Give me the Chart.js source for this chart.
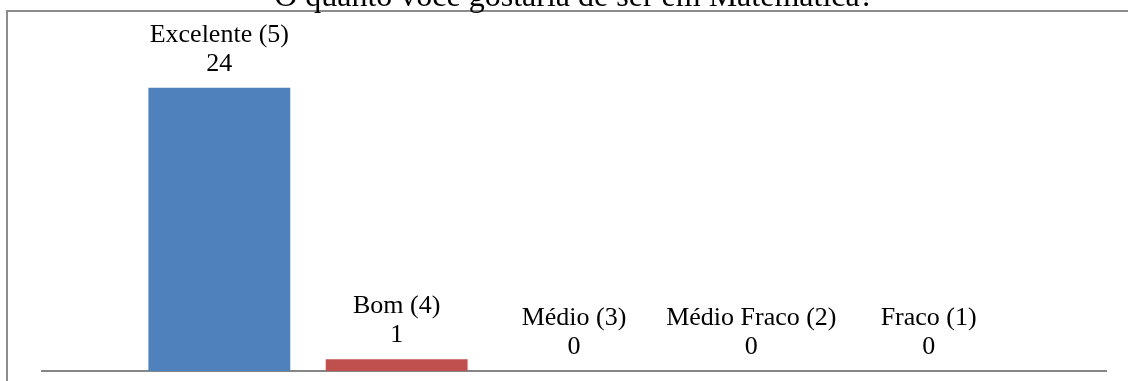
<!DOCTYPE html>
<html>
<head>
<meta charset="utf-8">
<script src="https://cdn.jsdelivr.net/npm/chart.js@4.4.0/dist/chart.umd.min.js"></script>
<style>
    html, body { margin: 0; padding: 0; background: #fff; overflow: hidden; }
    body { width: 1128px; height: 381px; position: relative; }
    .frame {
        position: absolute; left: 6px; top: 10px; width: 1160px; height: 420px;
        border-left: 2px solid #8c8c8c; border-top: 2px solid #8c8c8c;
    }
    .wrap { position: absolute; left: 0; top: -30px; width: 1128px; height: 411px; }
</style>
</head>
<body>
<div class="frame"></div>
<div class="wrap"><canvas id="chart"></canvas></div>
<script>
const chartTitle = 'O quanto você gostaria de ser em Matemática?';
const categories = ['Excelente (5)', 'Bom (4)', 'Médio (3)', 'Médio Fraco (2)', 'Fraco (1)'];
const counts = [24, 1, 0, 0, 0];
const barColors = ['#4f81bd', '#c0504d', '#9bbb59', '#8064a2', '#4bacc6'];

const serif = "'Liberation Serif', 'Times New Roman', serif";

// label above each bar: category on one line, value below it
const barLabels = {
    id: 'barLabels',
    afterDatasetsDraw(chart) {
        const ctx = chart.ctx;
        const meta = chart.getDatasetMeta(0);
        ctx.save();
        ctx.font = '26px ' + serif;
        ctx.fillStyle = '#000';
        ctx.textAlign = 'center';
        ctx.textBaseline = 'alphabetic';
        meta.data.forEach((bar, i) => {
            ctx.fillText(String(counts[i]), bar.x, bar.y - 17);
            ctx.fillText(categories[i], bar.x, bar.y - 46);
        });
        ctx.restore();
    }
};

new Chart(document.getElementById('chart'), {
    type: 'bar',
    data: {
        datasets: [{
            data: counts.map((v, i) => ({ x: i + 1, y: v })),
            backgroundColor: barColors,
            borderWidth: 0,
            barPercentage: 0.8,
            categoryPercentage: 1.0
        }]
    },
    options: {
        responsive: true,
        maintainAspectRatio: false,
        animation: false,
        layout: { padding: { left: 42, right: 22, top: 0, bottom: 2 } },
        plugins: {
            legend: { display: false },
            tooltip: { enabled: false },
            title: {
                display: true,
                text: chartTitle,
                color: '#000',
                font: { family: serif, size: 32, weight: 'normal', lineHeight: 1.2 },
                padding: { top: 8, bottom: 24 }
            }
        },
        scales: {
            x: {
                type: 'linear',
                min: 0,
                max: 6,
                offset: false,
                grid: { display: false },
                ticks: { display: false },
                border: { display: true, color: '#868686', width: 2 }
            },
            y: {
                display: false,
                min: 0,
                max: 28
            }
        }
    },
    plugins: [barLabels]
});
</script>
</body>
</html>
